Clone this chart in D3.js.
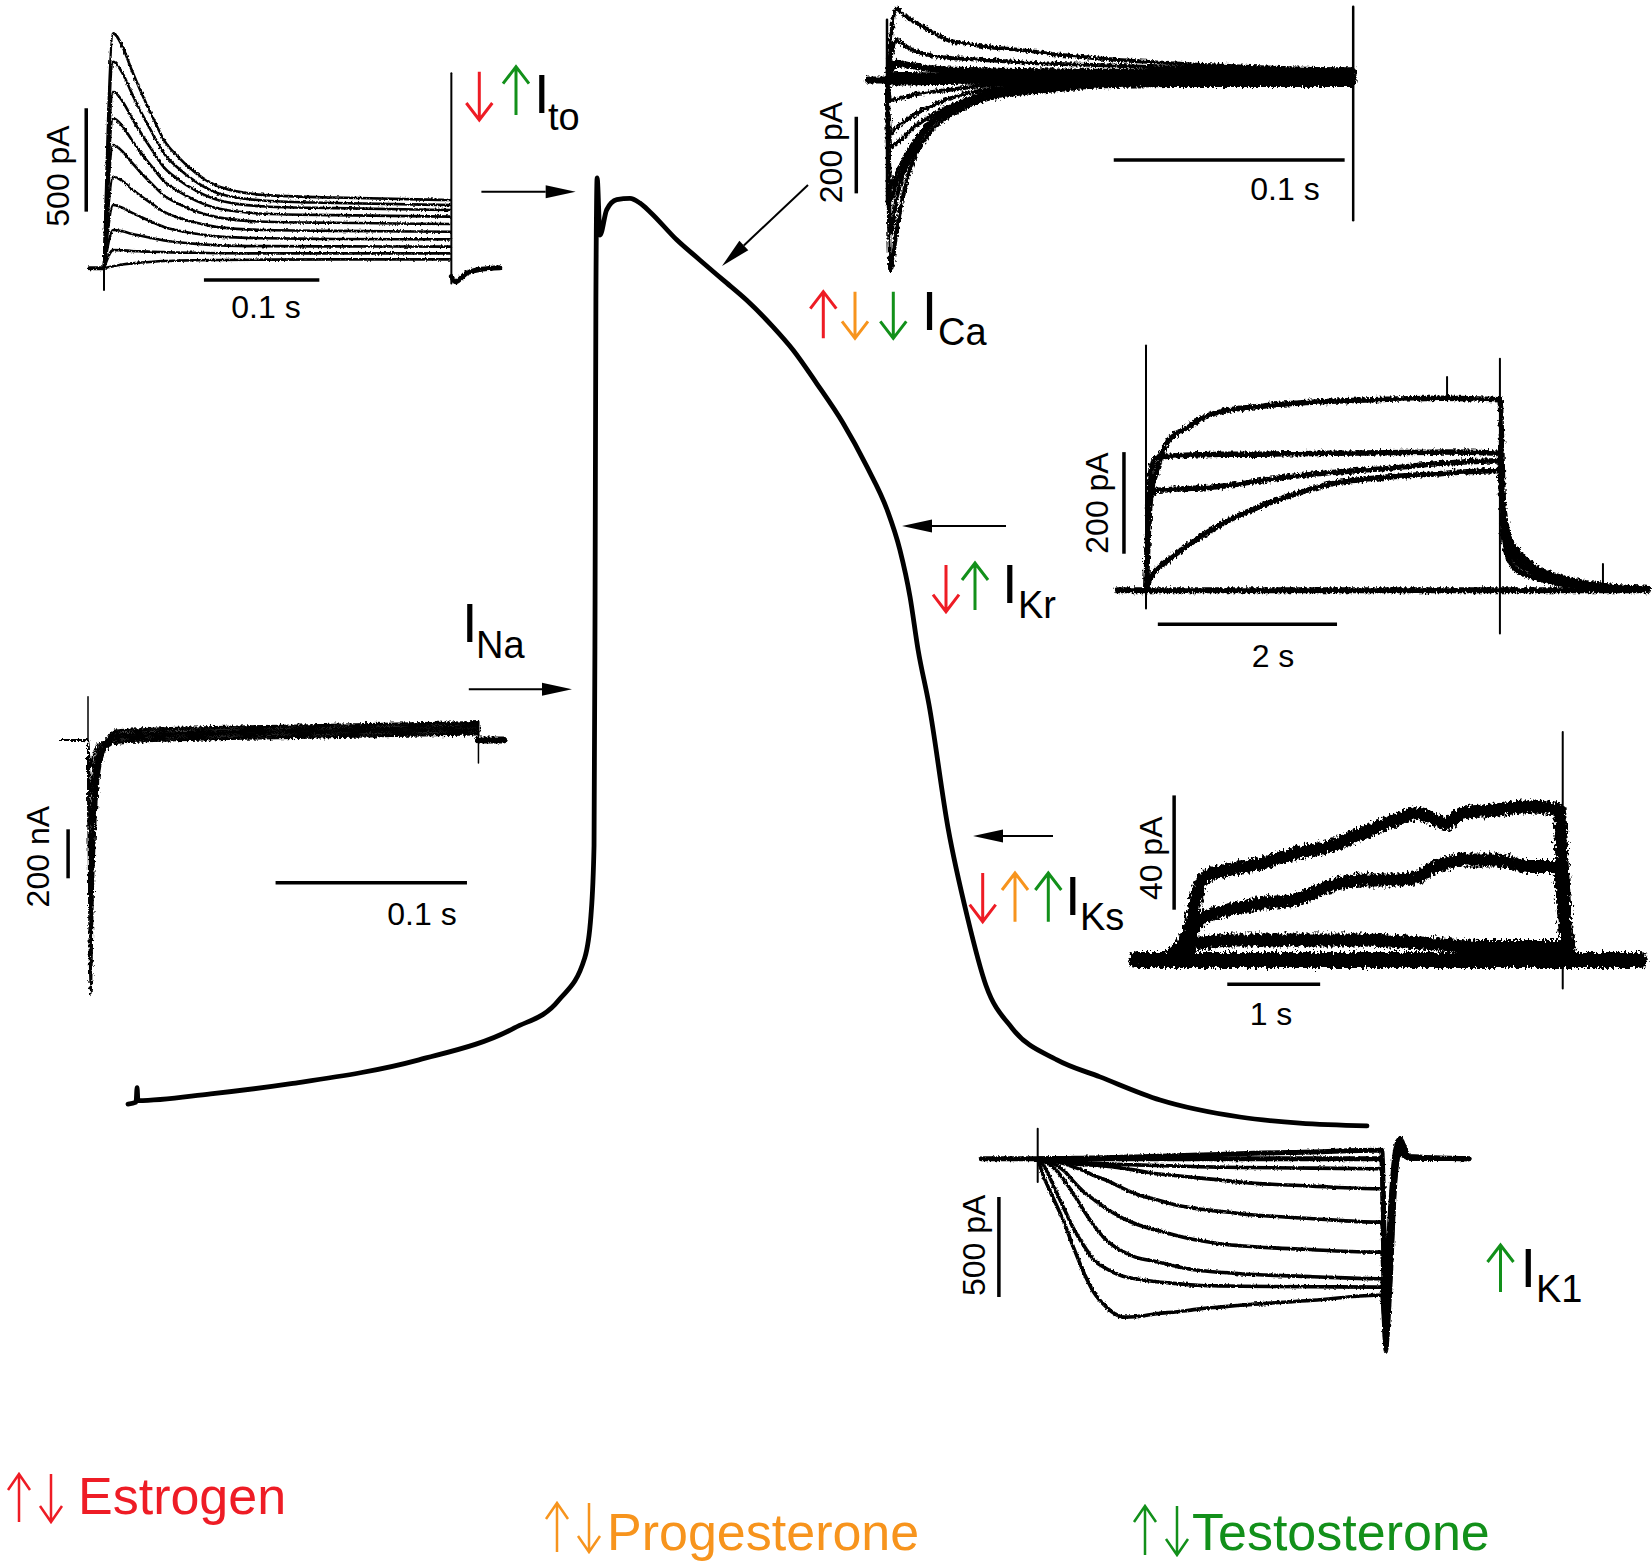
<!DOCTYPE html>
<html lang="en">
<head>
<meta charset="utf-8">
<title>Sex hormones and cardiac ionic currents</title>
<style>
body { margin: 0; background: #fff; }
svg text { font-family: "Liberation Sans", Arial, sans-serif; fill: #000; }
</style>
</head>
<body>
<div id="chart"></div>
<script src="https://cdn.jsdelivr.net/npm/d3@7/dist/d3.min.js"></script>
<script>
// ---- action potential (ms, mV) ----
var apTime = [0, 3.9, 4.4, 4.8, 40, 78.9, 140.8, 187, 208.5, 221, 224, 225.5, 226, 226.4, 227, 228.4, 231.6, 236.5, 242.9, 247.7, 252.6, 265.5, 276.8, 287.9, 299.4, 312.1, 321.8, 333.2, 345.9, 357.6, 367.3, 373.5, 378.4, 382.3, 387.6, 396.8, 406, 415.2, 427.7, 449.5, 470.3, 499.4, 538, 567, 599.5];
var apVolt = [-90.6, -90.3, -88.2, -90.1, -89.1, -87.6, -84.1, -79.4, -75.3, -69.1, -62.9, -52.6, -16.5, 27.6, 45.6, 37.2, 40.9, 42.4, 42.6, 41.9, 40.6, 36.5, 33.5, 30.6, 27.6, 23.7, 20.3, 15.4, 9.6, 3.1, -3.2, -9.1, -16.0, -23.8, -31.9, -50.0, -62.9, -73.2, -79.4, -84.1, -86.6, -90.0, -92.5, -93.4, -93.8];

// ---- Ito family (ms, pA) ----
var itoTime = [0, 8, 16, 24, 32, 42, 52, 64, 80, 100, 140, 200, 300];
var itoTraces = [
  [0, 1136, 1072, 959, 854, 733, 620, 540, 459, 394, 354, 342, 330],
  [0, 999, 944, 847, 756, 653, 555, 486, 417, 361, 327, 316, 306],
  [0, 854, 808, 728, 654, 568, 488, 431, 374, 328, 299, 291, 282],
  [0, 725, 687, 621, 559, 488, 421, 374, 326, 288, 264, 257, 250],
  [0, 596, 565, 512, 462, 405, 352, 313, 275, 245, 225, 220, 214],
  [0, 443, 422, 384, 350, 310, 273, 246, 220, 198, 185, 181, 177],
  [0, 306, 293, 269, 248, 223, 200, 183, 167, 153, 145, 142, 140],
  [0, 185, 179, 167, 157, 145, 134, 126, 118, 111, 107, 106, 105],
  [0, 88, 87, 84, 82, 80, 78, 76, 75, 73, 72, 72, 72],
  [0, 10, 18, 24, 28, 32, 35, 37, 39, 40, 42, 43, 43]
];
var itoTailTime = [301, 304.6, 314, 327, 343];
var itoTail = [-40, -65, -24, -5, 3];
var itoSpikeT = [0, 301], itoSpikeTop = [0, 943], itoSpikeBottom = [-105, -73];

// ---- ICa family (ms, pA) ----
var icaTime = [0, 1.6, 4.0, 7.2, 10.4, 18.4, 26.4, 34.4, 42.4, 58.5, 74.5, 90.5, 122.6, 201.9];
var icaTraces = [
  [0, 104, 187, 170, 157, 130, 104, 95, 87, 78, 66, 57, 44, 26],
  [0, 60, 104, 92, 80, 65, 58, 55, 52, 46, 42, 39, 33, 28],
  [0, 30, 44, 40, 38, 30, 26, 25, 24, 22, 21, 20, 20, 20],
  [0, 10, 12, 12, 12, 11, 10, 10, 9, 8, 8, 7, 6, 5],
  [0, -5, -5, -5, -5, -4, -4, -3, -3, -3, -2, -2, -2, -2],
  [0, -496, -400, -296, -226, -139, -96, -70, -52, -35, -26, -17, -13, -13],
  [0, -400, -313, -244, -200, -122, -87, -61, -43, -30, -22, -16, -12, -10],
  [0, -313, -270, -226, -190, -122, -82, -57, -40, -28, -20, -15, -10, -8],
  [0, -279, -244, -209, -174, -110, -78, -52, -35, -26, -17, -13, -9, -6],
  [0, -174, -165, -150, -130, -96, -70, -52, -35, -22, -15, -10, -6, -5],
  [0, -139, -125, -110, -96, -70, -50, -35, -26, -17, -12, -8, -5, -4],
  [0, -52, -50, -45, -40, -32, -26, -20, -15, -10, -7, -5, -3, -2]
];
var icaSpikeT = [0, 201.9], icaSpikeTop = [157, 191], icaSpikeBottom = [-317, -366];

// ---- IKr family (s, pA) ----
var ikrTime = [0, 0.05, 0.11, 0.25, 0.44, 0.65, 0.85, 1.26, 1.67, 2.08, 2.70, 3.31, 3.95];
var ikrTraces = [
  [0, 184, 230, 295, 318, 341, 352, 362, 368, 372, 376, 378, 375],
  [0, 230, 262, 264, 266, 267, 268, 268, 269, 270, 271, 272, 270],
  [0, 180, 197, 198, 200, 202, 205, 215, 225, 232, 240, 250, 255],
  [0, 25, 39, 60, 85, 110, 131, 164, 190, 210, 223, 230, 236]
];
var ikrTailTime = [3.95, 3.99, 4.05, 4.14, 4.34, 4.55, 4.96, 5.6];
var ikrTails = [
  [375, 171, 105, 79, 46, 30, 13, 3],
  [270, 150, 95, 70, 42, 28, 12, 3],
  [255, 120, 80, 55, 35, 22, 10, 3],
  [236, 105, 60, 40, 25, 15, 8, 3]
];
var ikrSpikeT = [0, 3.95, 3.36, 5.10], ikrSpikeTop = [482, 456, 420, 52], ikrSpikeBottom = [-36, -85, 378, 10];

// ---- IKs family (s, pA) ----
var iksTime = [0, 0.29, 0.36, 0.47, 0.72, 1.08, 1.44, 1.80, 2.16, 2.52, 2.77, 2.88, 3.06, 3.24, 3.60, 3.96, 4.28];
var iksTraces = [
  [0, 9.3, 20, 29.2, 31.5, 33.8, 37.3, 39.7, 44.3, 49, 51.3, 50, 47.8, 51.3, 52.5, 53.6, 52.5],
  [0, 8, 11.7, 15.2, 17.5, 19.8, 21, 25.7, 28, 28, 29, 31.5, 33.8, 35, 35, 32.7, 32.7],
  [0, 4, 5.8, 6, 7, 7, 7, 7, 7, 6.5, 6, 5.8, 5.5, 5, 4.7, 4.7, 4.7]
];
var iksTailTime = [4.28, 4.32, 4.36, 4.43, 5.15];
var iksTails = [
  [52.5, 30, 10, 0, 0],
  [32.7, 20, 6, 0, 0],
  [4.7, 3, 1, 0, 0]
];
var iksSpikeT = [4.32], iksSpikeTop = [79.8], iksSpikeBottom = [-10];

// ---- IK1 family (ms, pA) ----
var ik1Time = [0, 9, 15, 27, 39, 51, 70, 82, 100, 112, 124, 142, 173, 203, 233, 264, 294, 400, 494];
var ik1Traces = [
  [0, 0, 0, 1, 1, 2, 3, 4, 5, 6, 7, 9, 12, 15, 18, 21, 25, 34, 42],
  [0, 0, 0, 0, 0, 0, 0, 0, 0, 0, 0, 0, 0, 0, 0, 0, 0, 0, 0],
  [0, -2, -4, -8, -12, -16, -20, -22, -25, -27, -29, -31, -34, -37, -40, -42, -44, -47, -50],
  [0, -3, -6, -12, -18, -25, -30, -33, -38, -42, -48, -57, -75, -85, -96, -106, -117, -137, -150],
  [0, -4, -8, -15, -25, -40, -65, -85, -108, -128, -148, -175, -205, -233, -250, -263, -275, -300, -317],
  [0, -8, -15, -32, -62, -110, -175, -205, -250, -275, -298, -325, -358, -385, -408, -425, -435, -455, -467],
  [0, -12, -25, -58, -110, -170, -275, -335, -408, -440, -465, -492, -515, -540, -558, -568, -575, -590, -600],
  [0, -35, -75, -165, -255, -342, -450, -508, -550, -572, -588, -600, -615, -625, -633, -636, -638, -640, -642],
  [0, -92, -140, -230, -325, -435, -592, -670, -742, -775, -792, -790, -775, -765, -752, -742, -733, -708, -683]
];
var ik1TailTime = [500, 506, 512, 520, 526, 540, 627];
var ik1Tails = [
  [42, -700, -300, 40, 100, 10, 0],
  [0, -750, -350, 20, 90, 10, 0],
  [-50, -800, -400, 0, 80, 5, 0],
  [-150, -850, -450, -20, 70, 5, 0],
  [-317, -900, -500, -40, 60, 0, 0],
  [-467, -930, -550, -60, 50, 0, 0],
  [-600, -950, -600, -80, 40, 0, 0],
  [-642, -960, -650, -100, 30, 0, 0],
  [-683, -967, -700, -120, 20, 0, 0]
];
var ik1SpikeT = [0], ik1SpikeTop = [150], ik1SpikeBottom = [-117];

// ---- INa family (ms, nA) ----
var inaTime = [-14, 0, 0.5, 1.4, 2.5, 4, 6, 9, 14, 30, 60, 110, 154, 204];
var inaTraces = [
  [0, 0, -520, -1041, -625, -312, -125, -42, -12, -5, 2, 9, 16, 23],
  [0, 0, -450, -900, -540, -270, -108, -36, -5, 2, 9, 16, 23, 30],
  [0, 0, -380, -760, -456, -228, -91, -30, 3, 10, 17, 24, 31, 38],
  [0, 0, -310, -620, -372, -186, -74, -25, 10, 17, 24, 31, 38, 45],
  [0, 0, -240, -480, -288, -144, -58, -19, 16, 23, 30, 37, 44, 51],
  [0, 0, -175, -350, -210, -105, -42, -14, 23, 30, 37, 44, 51, 58],
  [0, 0, -110, -220, -132, -66, -26, -9, 31, 38, 45, 52, 59, 66],
  [0, 0, -55, -110, -66, -33, -13, -4, 38, 45, 52, 59, 66, 73]
];
var inaSpikeT = [0, 204], inaSpikeTop = [177, 78], inaSpikeBottom = [0, -94];

// ---- annotations ----
var currentSubs = ["to", "Ca", "Kr", "Ks", "K1", "Na"];
var currentEffects = [["down", "up"], ["up", "down", "down"], ["down", "up"], ["down", "up", "up"], ["up"], []];
var currentEffectColors = [["red", "green"], ["red", "orange", "green"], ["red", "green"], ["red", "orange", "green"], ["green"], []];
var hormones = ["Estrogen", "Progesterone", "Testosterone"];
var hormoneColors = ["red", "orange", "green"];

var COLORS = { red: "#ee1c25", orange: "#f7941d", green: "#12901a" };

var W = 1652, H = 1568;
var svg = d3.select("#chart").append("svg")
    .attr("width", W)
    .attr("height", H);
svg.append("rect").attr("width", W).attr("height", H).attr("fill", "#fff");

// recording noise look: a rough edge filter on the current traces
var defs = svg.append("defs");
[["rough2", 3, 0.6], ["rough5", 6, 0.5], ["rough9", 10, 0.45]].forEach(function(f) {
  var flt = defs.append("filter").attr("id", f[0])
      .attr("filterUnits", "userSpaceOnUse")
      .attr("x", 0).attr("y", 0).attr("width", W).attr("height", H);
  flt.append("feTurbulence")
      .attr("type", "fractalNoise")
      .attr("baseFrequency", f[2] + " " + (f[2] * 0.6))
      .attr("numOctaves", 2)
      .attr("seed", 4)
      .attr("result", "n");
  flt.append("feDisplacementMap")
      .attr("in", "SourceGraphic").attr("in2", "n")
      .attr("scale", f[1])
      .attr("xChannelSelector", "R").attr("yChannelSelector", "G");
});

function layer(filterId) {
  var g = svg.append("g");
  if (filterId) g.attr("filter", "url(#" + filterId + ")");
  return g;
}

function pts(t, v) {
  return t.map(function(d, i) { return [d, v[i]]; });
}

function trace(g, xs, ys, data, width, curve) {
  g.append("path").datum(data)
      .attr("fill", "none")
      .attr("stroke", "#000")
      .attr("stroke-width", width)
      .attr("stroke-linejoin", "round")
      .attr("stroke-linecap", "round")
      .attr("d", d3.line()
        .x(function(d) { return xs(d[0]); })
        .y(function(d) { return ys(d[1]); })
        .curve(curve || d3.curveMonotoneX));
}

function spikes(xs, ys, t, top, bottom, width) {
  t.forEach(function(d, i) {
    trace(svg, xs, ys, [[d, top[i]], [d, bottom[i]]], width, d3.curveLinear);
  });
}

function bar(xs, ys, a, b) {
  svg.append("line")
      .attr("x1", xs(a[0])).attr("y1", ys(a[1]))
      .attr("x2", xs(b[0])).attr("y2", ys(b[1]))
      .attr("stroke", "#000")
      .attr("stroke-width", 3.5);
}

function text(x, y, str, size, anchor) {
  return svg.append("text")
      .attr("x", x).attr("y", y)
      .attr("font-size", size)
      .attr("text-anchor", anchor || "start")
      .text(str);
}

function vtext(x, y, str, size) {
  svg.append("text")
      .attr("transform", "translate(" + x + "," + y + ") rotate(-90)")
      .attr("font-size", size)
      .attr("text-anchor", "middle")
      .attr("dominant-baseline", "central")
      .text(str);
}

// thin arrow like the ↑ ↓ glyphs
function glyphArrow(x, yTop, yBot, dir, color, sw, hw, hd) {
  var tip = dir === "up" ? yTop : yBot;
  var s = dir === "up" ? 1 : -1;
  var p = d3.path();
  p.moveTo(x, yTop); p.lineTo(x, yBot);
  p.moveTo(x - hw, tip + s * hd); p.lineTo(x, tip); p.lineTo(x + hw, tip + s * hd);
  svg.append("path")
      .attr("d", p.toString())
      .attr("fill", "none")
      .attr("stroke", color)
      .attr("stroke-width", sw)
      .attr("stroke-linejoin", "miter");
}

// pointer arrows toward the action potential
function pointer(x1, y1, x2, y2) {
  var a = Math.atan2(y2 - y1, x2 - x1), len = 30, hw = 6.5;
  var bx = x2 - len * Math.cos(a), by = y2 - len * Math.sin(a);
  svg.append("line")
      .attr("x1", x1).attr("y1", y1).attr("x2", bx).attr("y2", by)
      .attr("stroke", "#000").attr("stroke-width", 2);
  svg.append("path")
      .attr("d", "M" + x2 + "," + y2 +
        "L" + (bx + hw * Math.sin(a)) + "," + (by - hw * Math.cos(a)) +
        "L" + (bx - hw * Math.sin(a)) + "," + (by + hw * Math.cos(a)) + "Z")
      .attr("fill", "#000");
}

// ---- action potential ----
var apX = d3.scaleLinear().domain([0, 600]).range([128, 1368]);
var apY = d3.scaleLinear().domain([-90, 50]).range([1100, 148]);
trace(svg, apX, apY, pts(apTime, apVolt), 4.8);

// ---- Ito ----
var itoX = d3.scaleLinear().domain([0, 100]).range([104, 219.4]);
var itoY = d3.scaleLinear().domain([0, 500]).range([268.3, 164.9]);
var gIto = layer("rough2");
trace(gIto, itoX, itoY, [[-13, 0], [0, 0]], 4);
itoTraces.forEach(function(v) { trace(gIto, itoX, itoY, pts(itoTime, v), 2.6); });
trace(gIto, itoX, itoY, pts(itoTailTime, itoTail), 5);
spikes(itoX, itoY, itoSpikeT, itoSpikeTop, itoSpikeBottom, 2);
bar(itoX, itoY, [-15.4, 274], [-15.4, 774]);
bar(itoX, itoY, [86.6, -57], [186.6, -57]);
vtext(57.7, 176, "500 pA", 32);
text(266, 318, "0.1 s", 32, "middle");

// ---- ICa ----
var icaX = d3.scaleLinear().domain([0, 100]).range([887, 1117.9]);
var icaY = d3.scaleLinear().domain([0, 200]).range([80, 3.4]);
var gIca = layer("rough5");
trace(gIca, icaX, icaY, [[-8.1, 0], [0, 0]], 7);
icaTraces.forEach(function(v, i) {
  trace(gIca, icaX, icaY, pts(icaTime, v), (i >= 2 && i <= 4) ? 7 : 4);
});
spikes(icaX, icaY, icaSpikeT, icaSpikeTop, icaSpikeBottom, 2.5);
bar(icaX, icaY, [-13.3, -96], [-13.3, -296]);
bar(icaX, icaY, [98.2, -209], [198.2, -209]);
vtext(830.5, 152.5, "200 pA", 32);
text(1285, 200, "0.1 s", 32, "middle");

// ---- IKr ----
var ikrX = d3.scaleLinear().domain([0, 1]).range([1146, 1235.6]);
var ikrY = d3.scaleLinear().domain([0, 200]).range([590.3, 488.7]);
var gIkr = layer("rough5");
trace(gIkr, ikrX, ikrY, [[-0.32, 0], [5.6, 0]], 6);
ikrTraces.forEach(function(v, i) {
  trace(gIkr, ikrX, ikrY, pts(ikrTime.concat(ikrTailTime.slice(1)), v.concat(ikrTails[i].slice(1))), 5.5);
});
spikes(ikrX, ikrY, ikrSpikeT, ikrSpikeTop, ikrSpikeBottom, 2);
bar(ikrX, ikrY, [-0.246, 72], [-0.246, 272]);
bar(ikrX, ikrY, [0.132, -67], [2.132, -67]);
vtext(1097, 503, "200 pA", 32);
text(1273, 667, "2 s", 32, "middle");

// ---- IKs ----
var iksX = d3.scaleLinear().domain([0, 1]).range([1161.4, 1254.3]);
var iksY = d3.scaleLinear().domain([0, 40]).range([960, 845.7]);
var gIks = layer("rough9");
trace(gIks, iksX, iksY, [[-0.27, 0], [5.15, 0]], 16);
iksTraces.forEach(function(v, i) {
  trace(gIks, iksX, iksY, pts(iksTime.concat(iksTailTime.slice(1)), v.concat(iksTails[i].slice(1))), 13);
});
spikes(iksX, iksY, iksSpikeT, iksSpikeTop, iksSpikeBottom, 2);
bar(iksX, iksY, [0.137, 17.6], [0.137, 57.6]);
bar(iksX, iksY, [0.709, -8.5], [1.709, -8.5]);
vtext(1151.4, 858.3, "40 pA", 32);
text(1271, 1025, "1 s", 32, "middle");

// ---- IK1 ----
var ik1X = d3.scaleLinear().domain([0, 500]).range([1037.7, 1381.7]);
var ik1Y = d3.scaleLinear().domain([0, 500]).range([1158.7, 1058.7]);
var gIk1 = layer("rough2");
trace(gIk1, ik1X, ik1Y, [[-82, 0], [0, 0]], 5);
ik1Traces.forEach(function(v, i) {
  trace(gIk1, ik1X, ik1Y, pts(ik1Time.concat(ik1TailTime), v.concat(ik1Tails[i])), i < 2 ? 5 : 3.6);
});
spikes(ik1X, ik1Y, ik1SpikeT, ik1SpikeTop, ik1SpikeBottom, 2);
bar(ik1X, ik1Y, [-56.4, -191.5], [-56.4, -691.5]);
vtext(974, 1245.3, "500 pA", 32);

// ---- INa ----
var inaX = d3.scaleLinear().domain([0, 100]).range([88, 279.4]);
var inaY = d3.scaleLinear().domain([0, 200]).range([740, 691]);
var gIna = layer("rough5");
inaTraces.forEach(function(v) { trace(gIna, inaX, inaY, pts(inaTime, v), 2.2); });
trace(gIna, inaX, inaY, [[204, 0], [217, 0]], 7);
spikes(inaX, inaY, inaSpikeT, inaSpikeTop, inaSpikeBottom, 1.5);
bar(inaX, inaY, [-10.4, -364.5], [-10.4, -564.5]);
bar(inaX, inaY, [98, -582.4], [198, -582.4]);
vtext(38.3, 856.7, "200 nA", 32);
text(422, 925, "0.1 s", 32, "middle");

// ---- pointers to the AP ----
pointer(481.4, 191.7, 575.7, 191.7);
pointer(808, 185, 722, 266);
pointer(1006, 526, 902, 526);
pointer(1053, 836, 973, 836);
pointer(468.8, 689.3, 572, 689.3);

// ---- current labels ----
var labelPos = [
  { arrows: [479.3, 516], ay: [[71.7, 120], [66.7, 115]], ix: 539, iy: 113.3, sx: 550, sy: 130 },
  { arrows: [823.3, 855, 893.3], ay: [[291.7, 338.3], [291.7, 338.3], [291.7, 338.3]], ix: 926.7, iy: 330, sx: 940, sy: 345 },
  { arrows: [946, 975], ay: [[565, 611.7], [563, 610]], ix: 1007, iy: 603, sx: 1020, sy: 618 },
  { arrows: [982.7, 1015, 1048.3], ay: [[873, 921.7], [873, 921.7], [873, 921.7]], ix: 1070, iy: 915, sx: 1082, sy: 930 },
  { arrows: [1500.5], ay: [[1245, 1292]], ix: 1525.6, iy: 1287, sx: 1538, sy: 1302 },
  { arrows: [], ay: [], ix: 467, iy: 641.7, sx: 478, sy: 658 }
];
currentSubs.forEach(function(sub, i) {
  var p = labelPos[i];
  currentEffects[i].forEach(function(dir, j) {
    glyphArrow(p.arrows[j], p.ay[j][0], p.ay[j][1], dir, COLORS[currentEffectColors[i][j]], 3, 13, 17);
  });
  text(p.ix - 5, p.iy, "I", 56);
  text(p.sx - 2, p.sy, sub, 38);
});

// ---- hormone legend ----
var legendPos = [
  { up: 19, down: 51, y0: 1474, y1: 1522, tx: 78, ty: 1514 },
  { up: 557, down: 589, y0: 1503, y1: 1552, tx: 607, ty: 1550 },
  { up: 1145, down: 1177, y0: 1506, y1: 1555, tx: 1192, ty: 1550 }
];
hormones.forEach(function(h, i) {
  var p = legendPos[i], c = COLORS[hormoneColors[i]];
  glyphArrow(p.up, p.y0, p.y1, "up", c, 2.5, 11, 16);
  glyphArrow(p.down, p.y0, p.y1, "down", c, 2.5, 11, 16);
  text(p.tx, p.ty, h, 52).attr("fill", c).style("fill", c);
});
</script>
</body>
</html>
